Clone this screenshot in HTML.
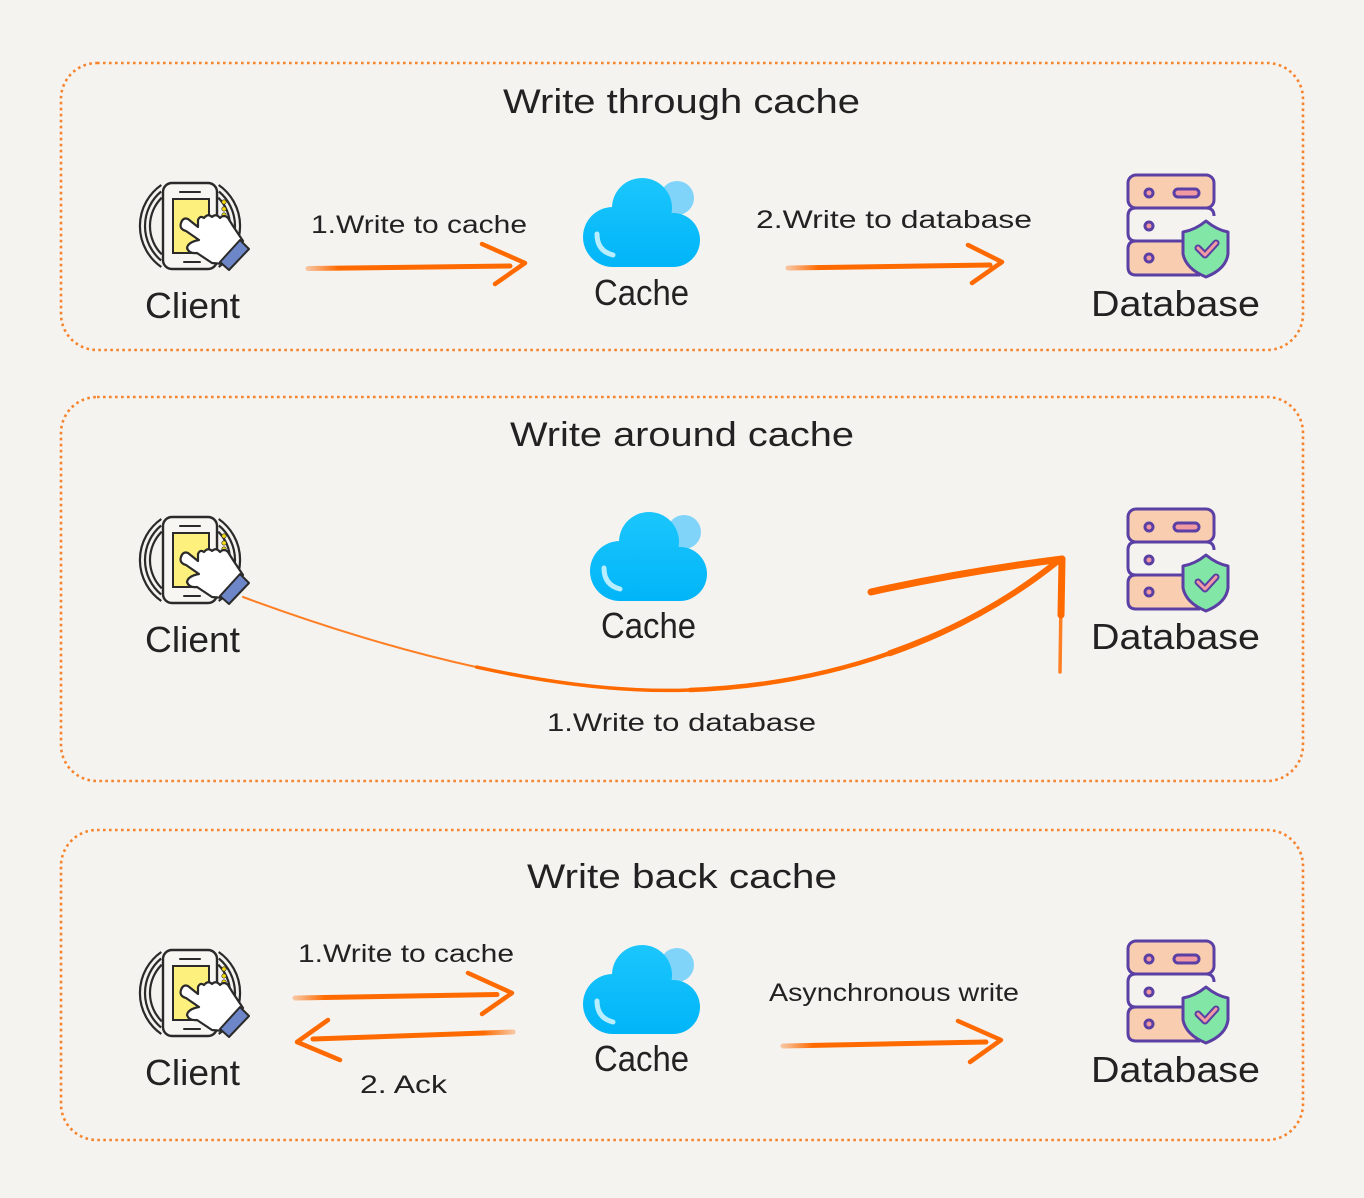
<!DOCTYPE html>
<html><head><meta charset="utf-8"><style>
html,body{margin:0;padding:0;background:#f4f3f0;}
svg{display:block;}
text{font-family:"Liberation Sans",sans-serif;fill:#222222;}
</style></head><body>
<svg width="1364" height="1198" viewBox="0 0 1364 1198" xmlns="http://www.w3.org/2000/svg">
<defs>
<linearGradient id="fade" x1="0" x2="1" y1="0" y2="0">
<stop offset="0" stop-color="#ff6a00" stop-opacity="0.35"/>
<stop offset="0.15" stop-color="#ff6a00" stop-opacity="1"/>
<stop offset="1" stop-color="#ff6a00"/>
</linearGradient>
<linearGradient id="fadeL" x1="1" x2="0" y1="0" y2="0">
<stop offset="0" stop-color="#ff6a00" stop-opacity="0.35"/>
<stop offset="0.15" stop-color="#ff6a00" stop-opacity="1"/>
<stop offset="1" stop-color="#ff6a00"/>
</linearGradient>
<linearGradient id="cloudg" gradientUnits="userSpaceOnUse" x1="0" x2="0" y1="178" y2="267">
<stop offset="0" stop-color="#1cc6fc"/>
<stop offset="1" stop-color="#00b5f8"/>
</linearGradient>
<g id="client">
  <g fill="none" stroke="#2a2a2a" stroke-width="2.2">
    <path d="M161.3,185 A50,50 0 0 0 161.3,267"/>
    <path d="M161.1,191.5 A45,45 0 0 0 161.1,260.5"/>
    <path d="M161.7,197.7 A40,40 0 0 0 161.7,254.3"/>
    <path d="M218.7,185 A50,50 0 0 1 218.7,267"/>
    <path d="M218.9,191.5 A45,45 0 0 1 218.9,260.5"/>
    <path d="M218.3,197.7 A40,40 0 0 1 218.3,254.3"/>
  </g>
  <rect x="163" y="183" width="54" height="86" rx="9" fill="#f7f6f3" stroke="#2a2a2a" stroke-width="2.4"/>
  <line x1="180" y1="192" x2="200" y2="192" stroke="#2a2a2a" stroke-width="2" stroke-linecap="round"/>
  <line x1="184" y1="262" x2="200" y2="262" stroke="#2a2a2a" stroke-width="2" stroke-linecap="round"/>
  <rect x="173" y="199" width="36" height="54" fill="#fdf07c" stroke="#2a2a2a" stroke-width="2"/>
  <circle cx="224" cy="202" r="2.2" fill="#f5d90a" stroke="#2a2a2a" stroke-width="0.6"/>
  <circle cx="224" cy="209" r="2.2" fill="#f5d90a" stroke="#2a2a2a" stroke-width="0.6"/>
  <circle cx="224" cy="215" r="2.2" fill="#f5d90a" stroke="#2a2a2a" stroke-width="0.6"/>
  <path d="M181,223 Q179,229 186,231 L199,240 Q188,242 187,248 Q189,254 197,253 L212,263 L224,264 L243,241 L233,226 L228,218 Q224,214 220,218 Q216,213 212,217 Q208,213 204,218 Q200,215 198,220 L198,227 L188,219 Q183,217 181,223 Z" fill="#ffffff" stroke="#2a2a2a" stroke-width="2.2" stroke-linejoin="round"/>
  <path d="M220,262 L229,270 L249,249 L240,240 Z" fill="#6d86c8" stroke="#2a2a2a" stroke-width="2" stroke-linejoin="round"/>
</g>
<g id="cloud">
  <circle cx="677" cy="198" r="17" fill="#80d4fa"/>
  <g fill="url(#cloudg)">
  <circle cx="642" cy="208" r="30"/>
  <circle cx="613" cy="237" r="30"/>
  <circle cx="673" cy="240" r="27"/>
  <rect x="613" y="215" width="60" height="52"/>
  </g>
  <path d="M597,234 Q597,251 613,255" fill="none" stroke="#b8eeff" stroke-width="5" stroke-linecap="round"/>
</g>
<g id="db" stroke="#5a3fa4" stroke-width="3" stroke-linejoin="round">
  <rect x="1128" y="175" width="86" height="33" rx="8" fill="#f9cdb0"/>
  <path d="M1183,241 L1136,241 Q1128,241 1128,233 L1128,216 Q1128,208 1136,208 L1206,208 Q1214,208 1214,216" fill="#f4f3f0"/>
  <path d="M1183,241 L1136,241 Q1128,241 1128,249 L1128,267 Q1128,275 1136,275 L1200,275" fill="#f9cdb0"/>
  <circle cx="1149" cy="193" r="4" fill="#f29aa2"/>
  <circle cx="1149" cy="226" r="4" fill="#f29aa2"/>
  <circle cx="1149" cy="258" r="4" fill="#f29aa2"/>
  <rect x="1174" y="189" width="25" height="8" rx="4" fill="#f29aa2"/>
  <path d="M1206,221 Q1195,230 1183,232 L1183,254 Q1186,269 1206,277 Q1226,269 1228,254 L1228,232 Q1217,230 1206,221 Z" fill="#82e6a6"/>
  <path d="M1198,248 L1205,255 L1216,243" fill="none" stroke="#5a3fa4" stroke-width="7" stroke-linecap="round"/>
  <path d="M1198,248 L1205,255 L1216,243" fill="none" stroke="#f29aa2" stroke-width="3" stroke-linecap="round"/>
</g>
</defs>

<!-- Boxes -->
<g fill="none" stroke="#f7842d" stroke-width="2.6" stroke-dasharray="2.6 3.4">
<rect x="61" y="63" width="1242" height="287" rx="36"/>
<rect x="61" y="397" width="1242" height="384" rx="36"/>
<rect x="61" y="830" width="1242" height="310" rx="36"/>
</g>

<!-- Icons -->
<use href="#client"/>
<use href="#client" transform="translate(0,334)"/>
<use href="#client" transform="translate(0,767)"/>
<use href="#cloud"/>
<use href="#cloud" transform="translate(7,334)"/>
<use href="#cloud" transform="translate(0,767)"/>
<use href="#db"/>
<use href="#db" transform="translate(0,334)"/>
<use href="#db" transform="translate(0,766)"/>

<!-- Titles -->
<text x="503" y="113" font-size="34" textLength="357" lengthAdjust="spacingAndGlyphs">Write through cache</text>
<text x="510" y="446" font-size="34" textLength="344" lengthAdjust="spacingAndGlyphs">Write around cache</text>
<text x="527" y="888" font-size="34" textLength="310" lengthAdjust="spacingAndGlyphs">Write back cache</text>

<!-- Node labels -->
<text x="145" y="318" font-size="36" textLength="95" lengthAdjust="spacingAndGlyphs">Client</text>
<text x="594" y="305" font-size="36" textLength="95" lengthAdjust="spacingAndGlyphs">Cache</text>
<text x="1091" y="316" font-size="36" textLength="169" lengthAdjust="spacingAndGlyphs">Database</text>

<text x="145" y="652" font-size="36" textLength="95" lengthAdjust="spacingAndGlyphs">Client</text>
<text x="601" y="638" font-size="36" textLength="95" lengthAdjust="spacingAndGlyphs">Cache</text>
<text x="1091" y="649" font-size="36" textLength="169" lengthAdjust="spacingAndGlyphs">Database</text>

<text x="145" y="1085" font-size="36" textLength="95" lengthAdjust="spacingAndGlyphs">Client</text>
<text x="594" y="1071" font-size="36" textLength="95" lengthAdjust="spacingAndGlyphs">Cache</text>
<text x="1091" y="1082" font-size="36" textLength="169" lengthAdjust="spacingAndGlyphs">Database</text>

<!-- Edge labels -->
<text x="311" y="233" font-size="25" textLength="216" lengthAdjust="spacingAndGlyphs">1.Write to cache</text>
<text x="756" y="228" font-size="25" textLength="276" lengthAdjust="spacingAndGlyphs">2.Write to database</text>
<text x="547" y="731" font-size="25" textLength="269" lengthAdjust="spacingAndGlyphs">1.Write to database</text>
<text x="298" y="962" font-size="25" textLength="216" lengthAdjust="spacingAndGlyphs">1.Write to cache</text>
<text x="360" y="1093" font-size="25" textLength="87" lengthAdjust="spacingAndGlyphs">2. Ack</text>
<text x="769" y="1001" font-size="25" textLength="250" lengthAdjust="spacingAndGlyphs">Asynchronous write</text>

<!-- Arrows -->
<g fill="none" stroke-linecap="round" stroke-linejoin="round">
  <!-- box1 arrow 1 -->
  <path d="M308,268.5 L510,266" stroke="url(#fade)" stroke-width="5"/>
  <path d="M482,244 L525,263 L495,284" stroke="#ff6a00" stroke-width="4.5"/>
  <!-- box1 arrow 2 -->
  <path d="M788,268 L990,265" stroke="url(#fade)" stroke-width="5"/>
  <path d="M968,245 L1002,262 L972,283" stroke="#ff6a00" stroke-width="4.5"/>
  <!-- box2 curve, tapered -->
  <path d="M243,597 C400,655 560,695 690,690 C830,685 960,640 1058,561" stroke="#ff6a00" stroke-width="2" stroke-opacity="0.85"/>
  <path d="M476.6,667.1 C552.5,683.75 625,692.5 690,690 C830,685 960,640 1058,561" stroke="#ff6a00" stroke-width="3.5"/>
  <path d="M690,690 C830,685 960,640 1058,561" stroke="#ff6a00" stroke-width="4.5"/>
  <path d="M889.75,653.25 C952,631.5 1009,600.5 1058,561" stroke="#ff6a00" stroke-width="6"/>
  <path d="M871,592 Q960,572 1062,559" stroke="#ff6a00" stroke-width="7"/>
  <path d="M1062,559 L1061,615" stroke="#ff6a00" stroke-width="7"/>
  <path d="M1061,600 L1060,672" stroke="#ff6a00" stroke-width="3.5" stroke-opacity="0.85"/>
  <!-- box3 right arrow -->
  <path d="M295,998 L497,994.5" stroke="url(#fade)" stroke-width="5"/>
  <path d="M468,973 L512,993 L482,1014" stroke="#ff6a00" stroke-width="4.5"/>
  <!-- box3 left arrow -->
  <path d="M513,1032 L313,1039" stroke="url(#fadeL)" stroke-width="5"/>
  <path d="M328,1020 L297,1042 L340,1060" stroke="#ff6a00" stroke-width="4.5"/>
  <!-- async arrow -->
  <path d="M783,1046 L986,1042" stroke="url(#fade)" stroke-width="5"/>
  <path d="M958,1021 L1001,1040 L970,1062" stroke="#ff6a00" stroke-width="4.5"/>
</g>
</svg>
</body></html>
